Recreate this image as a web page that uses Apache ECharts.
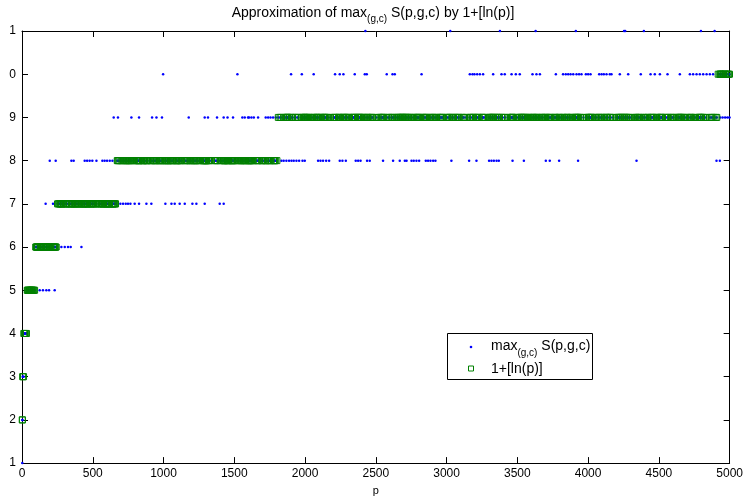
<!DOCTYPE html>
<html>
<head>
<meta charset="utf-8">
<script src="https://cdn.jsdelivr.net/npm/echarts@6/dist/echarts.min.js"></script>
<style>
html,body{margin:0;padding:0;background:#fff;overflow:hidden;}
#chart{width:746px;height:501px;}
</style>
</head>
<body>
<div id="chart"></div>
<script>
// ---- x tick labels / y tick labels ----
var xTickLabels = ['0','500','1000','1500','2000','2500','3000','3500','4000','4500','5000'];
var yTickLabels = ['1','2','3','4','5','6','7','8','9','0','1']; // values 1..11 (clipped labels as shown)

// ---- green series: 1+[ln(p)] for primes p, grouped by level ----
var greenLevel2 = [2,3];
var greenLevel3 = [5,7,11];
var greenLevel4 = [13,17,19,23,29,31];
var greenLevel5 = [37,41,43,47,53,59,61,67,71,73,79,83,89];
var greenLevel6 = [97,101,103,107,109,113,127,131,137,139,149,151,157,163,167,173,179,181,191,193,197,199,211,223,227,229,233,239,241];
var greenLevel7 = [251,257,263,269,271,277,281,283,293,307,311,313,317,331,337,347,349,353,359,367,373,379,383,389,397,401,409,419,421,431,433,439,443,449,457,461,463,467,479,487,491,499,503,509,521,523,541,547,557,563,569,571,577,587,593,599,601,607,613,617,619,631,641,643,647,653,659,661];
var greenLevel8 = [673,677,683,691,701,709,719,727,733,739,743,751,757,761,769,773,787,797,809,811,821,823,827,829,839,853,857,859,863,877,881,883,887,907,911,919,929,937,941,947,953,967,971,977,983,991,997,1009,1013,1019,1021,1031,1033,1039,1049,1051,1061,1063,1069,1087,1091,1093,1097,1103,1109,1117,1123,1129,1151,1153,1163,1171,1181,1187,1193,1201,1213,1217,1223,1229,1231,1237,1249,1259,1277,1279,1283,1289,1291,1297,1301,1303,1307,1319,1321,1327,1361,1367,1373,1381,1399,1409,1423,1427,1429,1433,1439,1447,1451,1453,1459,1471,1481,1483,1487,1489,1493,1499,1511,1523,1531,1543,1549,1553,1559,1567,1571,1579,1583,1597,1601,1607,1609,1613,1619,1621,1627,1637,1657,1663,1667,1669,1693,1697,1699,1709,1721,1723,1733,1741,1747,1753,1759,1777,1783,1787,1789,1801];
var greenLevel9 = [1811,1823,1831,1847,1861,1867,1871,1873,1877,1879,1889,1901,1907,1913,1931,1933,1949,1951,1973,1979,1987,1993,1997,1999,2003,2011,2017,2027,2029,2039,2053,2063,2069,2081,2083,2087,2089,2099,2111,2113,2129,2131,2137,2141,2143,2153,2161,2179,2203,2207,2213,2221,2237,2239,2243,2251,2267,2269,2273,2281,2287,2293,2297,2309,2311,2333,2339,2341,2347,2351,2357,2371,2377,2381,2383,2389,2393,2399,2411,2417,2423,2437,2441,2447,2459,2467,2473,2477,2503,2521,2531,2539,2543,2549,2551,2557,2579,2591,2593,2609,2617,2621,2633,2647,2657,2659,2663,2671,2677,2683,2687,2689,2693,2699,2707,2711,2713,2719,2729,2731,2741,2749,2753,2767,2777,2789,2791,2797,2801,2803,2819,2833,2837,2843,2851,2857,2861,2879,2887,2897,2903,2909,2917,2927,2939,2953,2957,2963,2969,2971,2999,3001,3011,3019,3023,3037,3041,3049,3061,3067,3079,3083,3089,3109,3119,3121,3137,3163,3167,3169,3181,3187,3191,3203,3209,3217,3221,3229,3251,3253,3257,3259,3271,3299,3301,3307,3313,3319,3323,3329,3331,3343,3347,3359,3361,3371,3373,3389,3391,3407,3413,3433,3449,3457,3461,3463,3467,3469,3491,3499,3511,3517,3527,3529,3533,3539,3541,3547,3557,3559,3571,3581,3583,3593,3607,3613,3617,3623,3631,3637,3643,3659,3671,3673,3677,3691,3697,3701,3709,3719,3727,3733,3739,3761,3767,3769,3779,3793,3797,3803,3821,3823,3833,3847,3851,3853,3863,3877,3881,3889,3907,3911,3917,3919,3923,3929,3931,3943,3947,3967,3989,4001,4003,4007,4013,4019,4021,4027,4049,4051,4057,4073,4079,4091,4093,4099,4111,4127,4129,4133,4139,4153,4157,4159,4177,4201,4211,4217,4219,4229,4231,4241,4243,4253,4259,4261,4271,4273,4283,4289,4297,4327,4337,4339,4349,4357,4363,4373,4391,4397,4409,4421,4423,4441,4447,4451,4457,4463,4481,4483,4493,4507,4513,4517,4519,4523,4547,4549,4561,4567,4583,4591,4597,4603,4621,4637,4639,4643,4649,4651,4657,4663,4673,4679,4691,4703,4721,4723,4729,4733,4751,4759,4783,4787,4789,4793,4799,4801,4813,4817,4831,4861,4871,4877,4889,4903,4909];
var greenLevel10 = [4919,4931,4933,4937,4943,4951,4957,4967,4969,4973,4987,4993,4999];

var blueLevel1 = [2];
var blueLevel5 = [125,148,172,191,231];
var blueLevel6 = [278,302,325,344,420];
var blueLevel7 = [167,219,695,714,733,749,766,796,827,879,914,1013,1056,1079,1114,1150,1204,1232,1291,1397,1425];
var blueLevel8 = [196,238,349,365,443,460,478,497,526,568,584,601,620,639,1833,1849,1868,1887,1904,1920,1939,1958,1982,1998,2092,2109,2127,2149,2170,2245,2264,2288,2358,2375,2392,2438,2457,2551,2622,2669,2705,2717,2752,2768,2787,2806,2853,2869,2886,2905,2921,3034,3159,3211,3300,3317,3334,3353,3369,3466,3546,3701,3729,3795,3929,4342,4907,4931];
var blueLevel9 = [648,678,773,827,919,950,989,1178,1291,1314,1378,1425,1452,1491,1557,1574,1597,1604,1621,1638,1668,1722,1739,1756,1774,1793,4933,4950,4968,4985,4999];
var blueLevel10 = [997,1522,1901,1977,2061,2212,2245,2271,2351,2422,2436,2577,2618,2634,2823,3164,3183,3197,3216,3235,3258,3329,3388,3411,3459,3489,3517,3607,3635,3659,3772,3823,3842,3859,3876,3895,3918,3936,3953,3984,4000,4017,4078,4095,4111,4130,4153,4165,4224,4283,4372,4441,4471,4507,4561,4648,4719,4742,4766,4789,4813,4837,4860,4883];
var blueLevel11 = [2426,3026,3377,3629,3913,4254,4262,4394,4797,4894];

function pts(arr, level){ return arr.map(function(p){ return [p, level]; }); }

var greenGroups = [[greenLevel2,2],[greenLevel3,3],[greenLevel4,4],[greenLevel5,5],[greenLevel6,6],[greenLevel7,7],[greenLevel8,8],[greenLevel9,9],[greenLevel10,10]];
var blueGroups = [[blueLevel1,1],[blueLevel5,5],[blueLevel6,6],[blueLevel7,7],[blueLevel8,8],[blueLevel9,9],[blueLevel10,10],[blueLevel11,11]];

var greenData = [];
greenGroups.forEach(function(g){ greenData = greenData.concat(pts(g[0], g[1])); });
// blue coincides with the green level except at the points listed above
var blueData = [];
greenGroups.forEach(function(g){ blueData = blueData.concat(pts(g[0], g[1])); });
blueGroups.forEach(function(g){ blueData = blueData.concat(pts(g[0], g[1])); });

var FONT = 'Liberation Sans, Arial, Helvetica, sans-serif';
var chart = echarts.init(document.getElementById('chart'), null, {renderer:'canvas'});

var axisLine = {show:true, onZero:false, lineStyle:{color:'#000', width:1}};
var tick = {show:true, inside:true, length:6, lineStyle:{color:'#000', width:1}};

chart.setOption({
  animation:false,
  backgroundColor:'#fff',
  title:{
    text:'{n|Approximation of max}{s|(g,c)}{n| S(p,g,c) by 1+[ln(p)]}',
    left:'center', top:1,
    textStyle:{
      fontWeight:'normal',
      rich:{
        n:{fontFamily:FONT, fontSize:14, fontWeight:'normal', color:'#000', lineHeight:15, verticalAlign:'top'},
        s:{fontFamily:FONT, fontSize:10, fontWeight:'normal', color:'#000', lineHeight:10, padding:[8,0,0,0], verticalAlign:'top'}
      }
    }
  },
  grid:{left:22, right:16, top:31, bottom:37, containLabel:false},
  xAxis:[{
    type:'value', position:'bottom', min:0, max:5000, interval:500,
    axisLine:axisLine, axisTick:tick, splitLine:{show:false},
    axisLabel:{color:'#000', fontFamily:FONT, fontSize:12, margin:5,
      formatter:function(v){ return xTickLabels[Math.round(v/500)]; }},
    name:'p', nameLocation:'middle', nameGap:19,
    nameTextStyle:{color:'#000', fontFamily:FONT, fontSize:11}
  },{
    type:'value', position:'top', min:0, max:5000, interval:500,
    axisLine:axisLine, axisTick:tick, splitLine:{show:false}, axisLabel:{show:false}
  }],
  yAxis:[{
    type:'value', position:'left', min:1, max:11, interval:1,
    axisLine:axisLine, axisTick:tick, splitLine:{show:false},
    axisLabel:{color:'#000', fontFamily:FONT, fontSize:12, margin:6,
      formatter:function(v){ return yTickLabels[Math.round(v)-1]; }}
  },{
    type:'value', position:'right', min:1, max:11, interval:1,
    axisLine:axisLine, axisTick:tick, splitLine:{show:false}, axisLabel:{show:false}
  }],
  series:[{
    name:'max S(p,g,c)', type:'scatter', data:blueData,
    symbol:'circle', symbolSize:2.5,
    itemStyle:{color:'#0000ff', opacity:1},
    silent:true, z:2
  },{
    name:'1+[ln(p)]', type:'scatter', data:greenData,
    symbol:'rect', symbolSize:6,
    itemStyle:{color:'rgba(0,0,0,0)', borderColor:'#008000', borderWidth:1, opacity:1},
    silent:true, z:3
  }],
  graphic:[
    {type:'rect', left:447, top:333, shape:{width:145, height:46},
     style:{fill:'#fff', stroke:'#000', lineWidth:1}, z:10},
    {type:'circle', shape:{cx:471, cy:347, r:1.3}, style:{fill:'#0000ff'}, z:11},
    {type:'rect', shape:{x:468.5, y:366, width:5, height:5}, style:{fill:'none', stroke:'#008000', lineWidth:1}, z:11},
    {type:'text', left:491, top:339, z:11,
     style:{text:'{n|max}{s|(g,c)}{n| S(p,g,c)}',
       rich:{
         n:{fontFamily:FONT, fontSize:14, fill:'#000', lineHeight:15, verticalAlign:'top'},
         s:{fontFamily:FONT, fontSize:10, fill:'#000', lineHeight:10, padding:[9,0,0,0], verticalAlign:'top'}
       }}},
    {type:'text', left:491, top:362, z:11,
     style:{text:'1+[ln(p)]', font:'14px '+FONT, fill:'#000'}}
  ]
});
</script>
</body>
</html>
